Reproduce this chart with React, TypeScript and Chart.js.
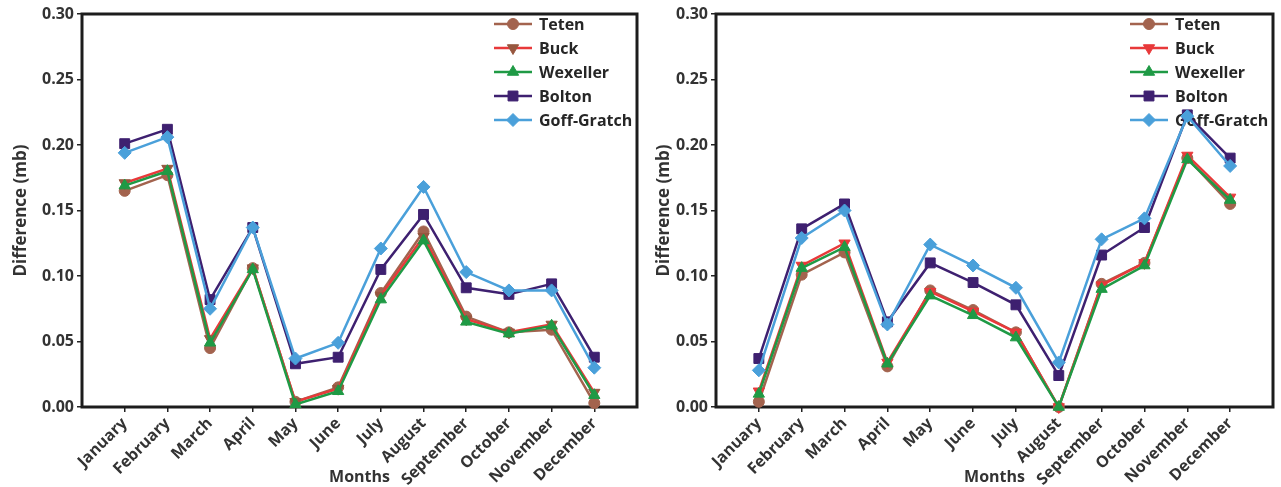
import React, { useEffect, useRef } from 'react';
import { Chart, registerables } from 'chart.js';
import { drawPoint } from 'chart.js/helpers';

Chart.register(...registerables);
Chart.defaults.font.family = "'Open Sans', 'DejaVu Sans', sans-serif";

// Month categories along the x axis
const months = [
  'January', 'February', 'March', 'April', 'May', 'June',
  'July', 'August', 'September', 'October', 'November', 'December',
];

// Y axis tick values (mb)
const yTickValues = [0, 0.05, 0.1, 0.15, 0.2, 0.25, 0.3];

// Left panel: monthly differences (mb)
const tetenLeft = [0.165, 0.177, 0.045, 0.106, 0.004, 0.015, 0.087, 0.134, 0.069, 0.057, 0.059, 0.003];
const buckLeft = [0.171, 0.182, 0.052, 0.106, 0.004, 0.014, 0.085, 0.130, 0.067, 0.057, 0.063, 0.011];
const wexellerLeft = [0.169, 0.180, 0.049, 0.105, 0.002, 0.012, 0.082, 0.127, 0.065, 0.056, 0.062, 0.009];
const boltonLeft = [0.201, 0.212, 0.082, 0.137, 0.033, 0.038, 0.105, 0.147, 0.091, 0.086, 0.094, 0.038];
const goffGratchLeft = [0.194, 0.206, 0.075, 0.137, 0.037, 0.049, 0.121, 0.168, 0.103, 0.089, 0.089, 0.030];

// Right panel: monthly differences (mb)
const tetenRight = [0.004, 0.101, 0.118, 0.031, 0.089, 0.074, 0.057, 0.000, 0.094, 0.110, 0.190, 0.155];
const buckRight = [0.012, 0.108, 0.125, 0.034, 0.088, 0.073, 0.057, 0.000, 0.093, 0.110, 0.192, 0.160];
const wexellerRight = [0.010, 0.106, 0.122, 0.033, 0.085, 0.070, 0.053, 0.000, 0.090, 0.108, 0.189, 0.158];
const boltonRight = [0.037, 0.136, 0.155, 0.065, 0.110, 0.095, 0.078, 0.024, 0.116, 0.137, 0.223, 0.190];
const goffGratchRight = [0.028, 0.129, 0.150, 0.063, 0.124, 0.108, 0.091, 0.034, 0.128, 0.144, 0.222, 0.184];

type Style = {
  name: string;
  line: string;
  marker: string;
  pointStyle: string;
  radius: number;
  rotation: number;
};

const TETEN = '#a3634e';
const BUCK = '#e8393a';
const WEX = '#1f9a45';
const BOLTON = '#3e2070';
const GOFF = '#4aa0da';

const leftStyles: Style[] = [
  { name: 'Teten', line: TETEN, marker: TETEN, pointStyle: 'circle', radius: 5.5, rotation: 0 },
  { name: 'Buck', line: BUCK, marker: '#97573f', pointStyle: 'triangle', radius: 6.5, rotation: 180 },
  { name: 'Wexeller', line: WEX, marker: WEX, pointStyle: 'triangle', radius: 6.5, rotation: 0 },
  { name: 'Bolton', line: BOLTON, marker: BOLTON, pointStyle: 'rect', radius: 7, rotation: 0 },
  { name: 'Goff-Gratch', line: GOFF, marker: GOFF, pointStyle: 'rectRot', radius: 6.5, rotation: 0 },
];

const rightStyles: Style[] = leftStyles.map((s) =>
  s.name === 'Buck' ? { ...s, marker: BUCK } : s
);

// Plot frame plus a line-and-marker legend in the upper right of the plot area
const frameAndLegend = {
  id: 'frameAndLegend',
  beforeDatasetsDraw(chart: any) {
    const { ctx, chartArea: a } = chart;
    ctx.save();
    ctx.strokeStyle = '#1c1c1c';
    ctx.lineWidth = 3;
    ctx.strokeRect(a.left, a.top, a.right - a.left, a.bottom - a.top);

    const x0 = a.right - 143;
    let y = a.top + 10;
    chart.data.datasets.forEach((ds: any) => {
      ctx.strokeStyle = ds.borderColor;
      ctx.lineWidth = 2.5;
      ctx.beginPath();
      ctx.moveTo(x0, y);
      ctx.lineTo(x0 + 38, y);
      ctx.stroke();
      ctx.fillStyle = ds.pointBackgroundColor;
      ctx.strokeStyle = ds.pointBorderColor;
      ctx.lineWidth = 1;
      drawPoint(ctx, {
        pointStyle: ds.pointStyle,
        radius: ds.pointRadius,
        rotation: ds.pointRotation,
        borderWidth: 1,
      } as any, x0 + 19, y);
      ctx.fillStyle = '#262626';
      ctx.font = "bold 16px 'Open Sans', sans-serif";
      ctx.textAlign = 'left';
      ctx.textBaseline = 'middle';
      ctx.fillText(ds.label, x0 + 45, y + 1);
      y += 24;
    });
    ctx.restore();
  },
};

type Panel = {
  series: number[][];
  styles: Style[];
  yAxisWidth: number;
  yTitlePad: number;
  padRight: number;
};

function buildConfig(p: Panel): any {
  const n = p.styles.length;
  return {
    type: 'line',
    data: {
      datasets: p.styles.map((s, i) => ({
        label: s.name,
        data: p.series[i].map((v, j) => ({ x: j + 1, y: v })),
        borderColor: s.line,
        backgroundColor: s.marker,
        pointBackgroundColor: s.marker,
        pointBorderColor: s.marker,
        pointBorderWidth: 1,
        pointStyle: s.pointStyle,
        pointRadius: s.radius,
        pointRotation: s.rotation,
        borderWidth: 2.5,
        tension: 0,
        clip: false,
        order: n - i,
      })),
    },
    options: {
      animation: false,
      responsive: false,
      devicePixelRatio: 1,
      layout: { padding: { left: 0, top: 14, right: p.padRight, bottom: 0 } },
      plugins: { legend: { display: false }, tooltip: { enabled: false } },
      scales: {
        x: {
          type: 'linear',
          min: 0,
          max: months.length + 1,
          afterBuildTicks: (s: any) => {
            s.ticks = months.map((_, i) => ({ value: i + 1 }));
          },
          afterFit: (s: any) => {
            s.height = 80;
          },
          ticks: {
            autoSkip: false,
            minRotation: 45,
            maxRotation: 45,
            padding: 2,
            color: '#333',
            font: { size: 16, weight: 'bold' },
            callback: (v: number) => months[v - 1] ?? '',
          },
          grid: {
            display: true,
            drawOnChartArea: false,
            drawTicks: true,
            tickLength: 5,
            color: '#222',
            lineWidth: 1.5,
          },
          border: { display: false },
          title: {
            display: true,
            text: 'Months',
            color: '#333',
            font: { size: 16, weight: 'bold' },
            padding: { top: 0, bottom: 0 },
          },
        },
        y: {
          min: 0,
          max: 0.3,
          afterBuildTicks: (s: any) => {
            s.ticks = yTickValues.map((v) => ({ value: v }));
          },
          afterFit: (s: any) => {
            s.width = p.yAxisWidth;
          },
          ticks: {
            padding: 3,
            color: '#333',
            font: { size: 16, weight: 'bold' },
            callback: (v: number) => v.toFixed(2),
          },
          grid: {
            display: true,
            drawOnChartArea: false,
            drawTicks: true,
            tickLength: 5,
            color: '#222',
            lineWidth: 1.5,
          },
          border: { display: false },
          title: {
            display: true,
            text: 'Difference (mb)',
            color: '#333',
            font: { size: 17, weight: 'bold' },
            padding: { top: p.yTitlePad, bottom: 0 },
          },
        },
      },
    },
    plugins: [frameAndLegend],
  };
}

function LineChart({ panel, width, height }: { panel: Panel; width: number; height: number }) {
  const ref = useRef<HTMLCanvasElement | null>(null);
  useEffect(() => {
    if (!ref.current) return;
    const chart = new Chart(ref.current, buildConfig(panel));
    return () => chart.destroy();
  }, [panel]);
  return <canvas ref={ref} width={width} height={height} style={{ display: 'block', width, height }} />;
}

const leftPanel: Panel = {
  series: [tetenLeft, buckLeft, wexellerLeft, boltonLeft, goffGratchLeft],
  styles: leftStyles,
  yAxisWidth: 82,
  yTitlePad: 11,
  padRight: 2,
};

const rightPanel: Panel = {
  series: [tetenRight, buckRight, wexellerRight, boltonRight, goffGratchRight],
  styles: rightStyles,
  yAxisWidth: 71,
  yTitlePad: 9,
  padRight: 3,
};

export default function App() {
  return (
    <div style={{ position: 'fixed', left: 0, top: 0, width: 1281, height: 487, background: '#fff' }}>
      <div style={{ position: 'absolute', left: 0, top: 0 }}>
        <LineChart panel={leftPanel} width={645} height={487} />
      </div>
      <div style={{ position: 'absolute', left: 645, top: 0 }}>
        <LineChart panel={rightPanel} width={636} height={487} />
      </div>
    </div>
  );
}
